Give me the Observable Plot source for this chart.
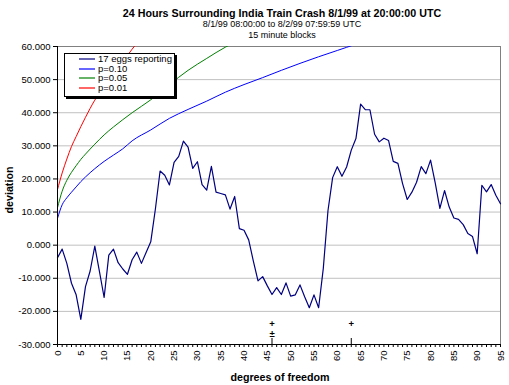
<!DOCTYPE html>
<html><head><meta charset="utf-8">
<script src="https://cdn.jsdelivr.net/npm/d3@7"></script>
<script src="https://cdn.jsdelivr.net/npm/@observablehq/plot@0.6"></script>
<style>
body{margin:0;background:#fff;font-family:Arial,"Liberation Sans",sans-serif;color:#000;}
#wrap{position:relative;width:509px;height:385px;overflow:hidden;background:#fff;}
#wrap svg{position:absolute;left:0;top:0;}
.t{position:absolute;white-space:nowrap;transform:translate(-50%,-50%);line-height:1;}
.b{font-weight:bold;font-size:10.7px;}
.s{font-size:9px;}
#legend{position:absolute;left:64px;top:53px;width:109px;height:42px;border:1px solid #000;box-shadow:2px 2px 0 #000;background:#fff;font-size:9.5px;}
#legend .row{position:absolute;left:0;height:10px;line-height:10px;}
#legend svg{position:absolute;left:14px;top:4px;}
#legend span{position:absolute;left:33px;top:0;white-space:nowrap;}
</style></head><body><div id="wrap"></div>
<script>
// ---- data ----
const dof = d3.range(0, 96);
const eggs = [
  -3.8, -1.2, -5.5, -11.5, -15.0, -22.4, -12.5, -7.8, -0.3, -8.0,
  -15.8, -3.0, -1.2, -5.3, -7.2, -8.8, -4.4, -2.1, -5.5, -2.2,
  1.0, 11.0, 22.4, 21.1, 18.2, 25.0, 26.8, 31.4, 29.6, 23.2,
  25.2, 18.3, 16.6, 23.8, 16.0, 15.6, 15.2, 10.9, 14.7, 5.0,
  4.5, 1.6, -4.8, -10.8, -9.5, -12.3, -14.9, -12.8, -14.9, -11.4,
  -15.4, -15.0, -12.0, -15.6, -18.9, -15.0, -18.9, -7.0, 10.4, 20.4,
  23.7, 20.8, 23.6, 28.7, 32.2, 42.6, 40.9, 40.9, 33.5, 31.2,
  32.3, 31.6, 25.3, 24.7, 18.6, 13.8, 16.0, 19.0, 23.7, 21.6,
  25.7, 18.8, 11.1, 16.5, 11.5, 8.2, 7.8, 6.2, 3.5, 2.6,
  -2.6, 18.1, 16.1, 18.3, 15.1, 12.5
];
const p10X = [0, 1, 2, 3, 4, 5, 6, 8, 10, 12, 14, 16, 20, 24, 28, 32, 36, 40, 44, 48, 52, 56, 60, 64];
const p10  = [8.1, 12.2, 14.3, 16.0, 17.6, 19.2, 20.6, 23.1, 25.3, 27.2, 29.1, 31.5, 34.8, 38.3, 41.0, 43.5, 46.2, 48.5, 50.6, 52.8, 54.9, 56.9, 58.8, 60.7];
const p05X = [0, 1, 2, 3, 4, 5, 6, 8, 10, 12, 14, 16, 20, 24, 28, 32, 36, 38];
const p05  = [11.3, 16.3, 19.6, 22.0, 24.0, 25.9, 27.5, 30.5, 33.3, 35.7, 37.9, 40.0, 43.9, 48.5, 52.8, 56.4, 59.8, 61.2];
const p01X = [0, 1, 2, 3, 4, 5, 6, 8, 10, 12, 14, 16, 18];
const p01  = [16.8, 21.8, 26.0, 29.8, 32.8, 35.8, 38.6, 43.8, 47.8, 51.5, 55.3, 59.2, 62.5];
const seriesNames  = ["17 eggs reporting", "p=0.10", "p=0.05", "p=0.01"];
const seriesColors = ["#000080", "#0000ff", "#008000", "#ff0000"];
const yTicks = [-30, -20, -10, 0, 10, 20, 30, 40, 50, 60];
const xTicks = d3.range(0, 96);
const eventX = [46, 63];
const eventTop = ["+", "+"];
const eventSecondX = [46];
const eventSecond = ["\u00b1"];
const titleText = "24 Hours Surrounding India Train Crash 8/1/99 at 20:00:00 UTC";
const sub1 = "8/1/99 08:00:00 to 8/2/99 07:59:59 UTC";
const sub2 = "15 minute blocks";
const xTitle = "degrees of freedom";
const yTitle = "deviation";

// ---- chart ----
const pts = (xs, ys) => xs.map((x, i) => ({x, y: ys[i]}));
const chart = Plot.plot({
  width: 509, height: 385,
  marginLeft: 57, marginRight: 9, marginTop: 46, marginBottom: 41,
  style: {fontFamily: "Arial, 'Liberation Sans', sans-serif", fontSize: "9.5px", background: "transparent", color: "#000"},
  x: {domain: [0, 95]},
  y: {domain: [-30, 60]},
  marks: [
    Plot.gridY(yTicks.filter(v => v > -30 && v < 60), {stroke: "#c0c0c0", strokeOpacity: 1}),
    Plot.ruleY([60], {stroke: "#808080"}),
    Plot.ruleX([95], {stroke: "#808080"}),
    Plot.line(pts(p10X, p10), {x: "x", y: "y", stroke: seriesColors[1], strokeWidth: 1, curve: "monotone-x", clip: true}),
    Plot.line(pts(p05X, p05), {x: "x", y: "y", stroke: seriesColors[2], strokeWidth: 1, curve: "monotone-x", clip: true}),
    Plot.line(pts(p01X, p01), {x: "x", y: "y", stroke: seriesColors[3], strokeWidth: 1, curve: "monotone-x", clip: true}),
    Plot.line(pts(dof, eggs), {x: "x", y: "y", stroke: seriesColors[0], strokeWidth: 1.2}),
    Plot.axisY({ticks: yTicks, tickSize: 4, tickPadding: 3, tickFormat: d => d.toFixed(3), label: null}),
    Plot.ruleX([0], {stroke: "#000"}),
    Plot.axisX({ticks: xTicks, tickSize: 3, tickPadding: 3, tickRotate: -90, tickFormat: d => d % 5 === 0 ? String(d) : "", label: null}),
    Plot.ruleY([-30], {stroke: "#000"}),
    Plot.ruleX(eventX, {stroke: "#000", insetTop: 292}),
    Plot.text(eventX, {x: d => d, text: (d, i) => eventTop[i], frameAnchor: "bottom", dy: -18, fontSize: 9.5, fontWeight: "bold", fill: "#000"}),
    Plot.text(eventSecondX, {x: d => d, text: (d, i) => eventSecond[i], frameAnchor: "bottom", dy: -8, fontSize: 9.5, fontWeight: "bold", fill: "#000"})
  ]
});
const wrap = document.getElementById("wrap");
wrap.appendChild(chart);

function addText(txt, cls, x, y, rot) {
  const d = document.createElement("div");
  d.className = "t " + cls;
  d.textContent = txt;
  d.style.left = x + "px";
  d.style.top = y + "px";
  if (rot) d.style.transform = "translate(-50%,-50%) rotate(-90deg)";
  wrap.appendChild(d);
}
addText(titleText, "b", 282, 12.5);
addText(sub1, "s", 282, 24);
addText(sub2, "s", 282, 35);
addText(xTitle, "b", 280, 377);
addText(yTitle, "b", 9, 190, true);

const lg = document.createElement("div");
lg.id = "legend";
seriesNames.forEach((n, i) => {
  const r = document.createElement("div");
  r.className = "row";
  r.style.top = (0 + i * 9.7) + "px";
  r.innerHTML = `<svg width="16" height="2"><line x1="0" x2="16" y1="1" y2="1" stroke="${seriesColors[i]}" stroke-width="1.2"/></svg><span>${n}</span>`;
  lg.appendChild(r);
});
wrap.appendChild(lg);
</script></body></html>
